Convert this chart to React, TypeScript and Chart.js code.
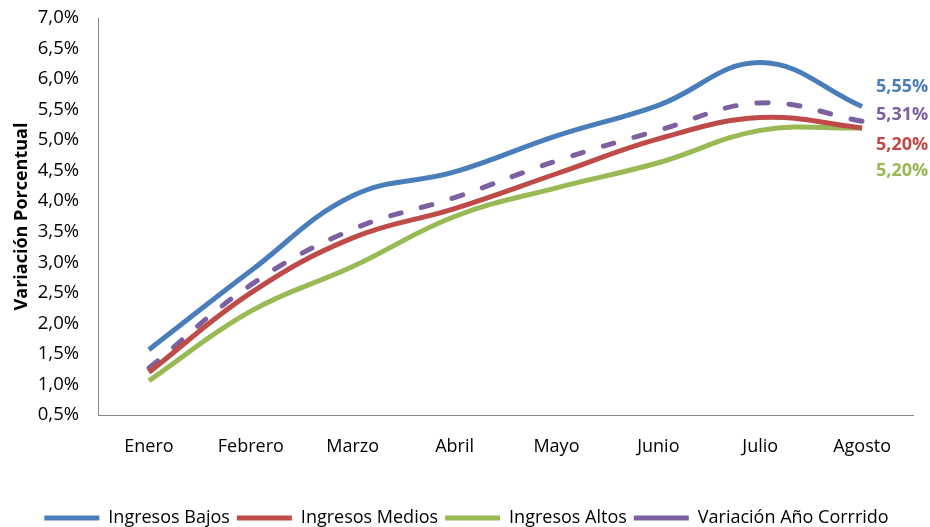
import React, { useEffect, useRef } from "react";
import { Chart, registerables } from "chart.js";

Chart.register(...registerables);

const months = ["Enero", "Febrero", "Marzo", "Abril", "Mayo", "Junio", "Julio", "Agosto"];
const ingresosBajos = [1.57, 2.86, 4.09, 4.48, 5.07, 5.57, 6.27, 5.55];
const ingresosMedios = [1.2, 2.5, 3.4, 3.88, 4.45, 5.02, 5.37, 5.2];
const ingresosAltos = [1.06, 2.2, 2.93, 3.75, 4.22, 4.63, 5.16, 5.2];
const variacionAnio = [1.27, 2.63, 3.54, 4.06, 4.66, 5.16, 5.61, 5.31];
const yMin = 0.5;
const yMax = 7.0;
const yStep = 0.5;

const seriesNames = ["Ingresos Bajos", "Ingresos Medios", "Ingresos Altos", "Variación Año Corrrido"];
const seriesColors = ["#4A7EBB", "#BE4B48", "#98B954", "#7D60A0"];
// vertical offsets of the end labels, in dataset order (bajos, medios, altos, variación)
const labelOffsets = [-20, 17, 43, -6];

const FONT = "'Open Sans', 'DejaVu Sans', sans-serif";

const fmt = (v: number) => v.toFixed(2).replace(".", ",") + "%";

const endLabels = {
  id: "endLabels",
  afterLayout(chart: any) {
    const l = chart.legend;
    if (l) {
      l.left += 10;
      l.right += 10;
    }
  },
  afterDatasetsDraw(chart: any) {
    const ctx = chart.ctx;
    ctx.save();
    ctx.font = `bold 18px ${FONT}`;
    ctx.textAlign = "left";
    ctx.textBaseline = "middle";
    chart.data.datasets.forEach((ds: any, i: number) => {
      const meta = chart.getDatasetMeta(i);
      const last = meta.data.length - 1;
      const pt = meta.data[last];
      ctx.fillStyle = ds.borderColor;
      ctx.fillText(fmt(ds.data[last]), pt.x + 14, pt.y + labelOffsets[i]);
    });
    ctx.restore();
  },
};

export default function App() {
  const ref = useRef<HTMLCanvasElement>(null);
  useEffect(() => {
    document.body.style.margin = "0";
    const data = [ingresosBajos, ingresosMedios, ingresosAltos, variacionAnio];
    const chart = new Chart(ref.current!, {
      type: "line",
      data: {
        labels: months,
        datasets: data.map((d, i) => ({
          label: seriesNames[i],
          data: d,
          borderColor: seriesColors[i],
          backgroundColor: seriesColors[i],
          borderWidth: 5,
          borderDash: i === 3 ? [11, 21] : [],
          borderCapStyle: i === 3 ? "round" : "butt",
          pointRadius: 0,
          pointHoverRadius: 0,
          tension: 0.4,
          fill: false,
        })),
      },
      options: {
        animation: false,
        responsive: false,
        layout: { padding: { left: 0, top: 18, right: 17, bottom: -10 } },
        plugins: {
          tooltip: { enabled: false },
          legend: {
            position: "bottom",
            labels: {
              usePointStyle: true,
              pointStyle: "line",
              pointStyleWidth: 55,
              boxHeight: 18,
              padding: 7,
              color: "#000",
              font: { family: FONT, size: 18 },
            },
          },
        },
        scales: {
          x: {
            offset: true,
            grid: { display: false, drawTicks: false },
            border: { display: true, color: "#868686", width: 1 },
            ticks: { color: "#000", padding: 21, font: { family: FONT, size: 18 } },
            afterFit: (s: any) => {
              s.height = 87;
            },
          },
          y: {
            min: yMin,
            max: yMax,
            grid: { display: false, drawTicks: false },
            border: { display: true, color: "#868686", width: 1 },
            ticks: {
              stepSize: yStep,
              color: "#000",
              padding: 19,
              font: { family: FONT, size: 18.5 },
              callback: (v: any) => Number(v).toFixed(1).replace(".", ",") + "%",
            },
            title: {
              display: true,
              text: "Variación Porcentual",
              color: "#000",
              font: { family: FONT, size: 18, weight: "bold" },
              padding: { top: 11, bottom: 0 },
            },
            afterFit: (s: any) => {
              s.width = 98;
              s.paddingTop = 0;
              s.paddingBottom = 0;
            },
          },
        },
      },
      plugins: [endLabels],
    });
    return () => chart.destroy();
  }, []);
  return (
    <div style={{ width: 930, height: 527 }}>
      <canvas ref={ref} width={930} height={527} />
    </div>
  );
}
